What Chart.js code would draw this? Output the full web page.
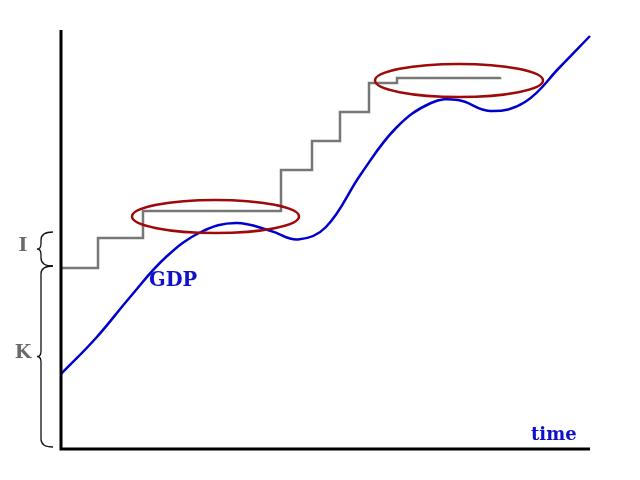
<!DOCTYPE html>
<html>
<head>
<meta charset="utf-8">
<script src="https://cdn.jsdelivr.net/npm/chart.js@4"></script>
<style>
html,body{margin:0;padding:0;background:#fff;}
#wrap{width:640px;height:480px;}
</style>
</head>
<body>
<div id="wrap"><canvas id="c" width="640" height="480"></canvas></div>
<script>
// Units: arbitrary "time" (x) and "level" (y)
const gdpTime  = [0,35,70,105,140,175,210,237,265,300,335,370,397,429,464,499,529];
const gdpLevel = [75,111,153,192,217,226,218,209.5,222,275,321,346,349,338,347,382,413];

const capTime  = [0,37,82,220,251,279,308,336,439];
const capLevel = [181,211,238,279,308,337,366,371,372];

const ellipseX  = [154.5,398];
const ellipseY  = [232.5,368.5];
const ellipseRX = [83.5,84];
const ellipseRY = [16.5,16.5];

const braceTop    = [217,183];
const braceBottom = [183,2];
const braceLabels = ['I','K'];

const xMax = 529, yMax = 419;

const overlay = {
  id:'overlay',
  afterDatasetsDraw(chart){
    const ctx = chart.ctx, xs = chart.scales.x, ys = chart.scales.y;
    ctx.save();
    // ellipses
    ctx.strokeStyle = '#9e0a0a';
    ctx.lineWidth = 2.5;
    for(let i=0;i<ellipseX.length;i++){
      const cx = xs.getPixelForValue(ellipseX[i]);
      const cy = ys.getPixelForValue(ellipseY[i]);
      const rx = xs.getPixelForValue(ellipseX[i]+ellipseRX[i]) - cx;
      const ry = cy - ys.getPixelForValue(ellipseY[i]+ellipseRY[i]);
      ctx.beginPath();
      ctx.ellipse(cx,cy,rx,ry,0,0,Math.PI*2);
      ctx.stroke();
    }
    // axes
    const x0 = xs.getPixelForValue(0), x1 = xs.getPixelForValue(xMax);
    const y0 = ys.getPixelForValue(0), y1 = ys.getPixelForValue(yMax);
    ctx.strokeStyle = '#000';
    ctx.lineWidth = 3;
    ctx.beginPath();
    ctx.moveTo(x0, y1);
    ctx.lineTo(x0, y0);
    ctx.lineTo(x1, y0);
    ctx.stroke();
    // braces
    ctx.lineWidth = 1.3;
    ctx.strokeStyle = '#111';
    const tipX = x0-24, bodyX = x0-20, endX = x0-8, r = 8;
    for(let i=0;i<braceTop.length;i++){
      const t = ys.getPixelForValue(braceTop[i]);
      const b = ys.getPixelForValue(braceBottom[i]);
      const m = (t+b)/2;
      ctx.beginPath();
      ctx.moveTo(endX,t);
      ctx.quadraticCurveTo(bodyX,t,bodyX,t+r);
      ctx.lineTo(bodyX,m-r*0.7);
      ctx.quadraticCurveTo(bodyX,m,tipX,m);
      ctx.quadraticCurveTo(bodyX,m,bodyX,m+r*0.7);
      ctx.lineTo(bodyX,b-r);
      ctx.quadraticCurveTo(bodyX,b,endX,b);
      ctx.stroke();
      ctx.fillStyle = '#6a6a6a';
      ctx.font = 'bold 19px "DejaVu Serif", serif';
      ctx.textAlign = 'center';
      ctx.textBaseline = 'middle';
      ctx.fillText(braceLabels[i], x0-38, m-3);
    }
    // labels
    ctx.fillStyle = '#1010cc';
    ctx.textAlign = 'left';
    ctx.textBaseline = 'alphabetic';
    ctx.font = 'bold 19.5px "DejaVu Serif", serif';
    ctx.fillText('GDP', xs.getPixelForValue(88), ys.getPixelForValue(163));
    ctx.font = 'bold 18px "DejaVu Serif", serif';
    ctx.fillText('time', xs.getPixelForValue(470), ys.getPixelForValue(9));
    ctx.restore();
  }
};

new Chart(document.getElementById('c'), {
  type:'line',
  data:{
    datasets:[
      {
        data: capTime.map((t,i)=>({x:t,y:capLevel[i]})),
        borderColor:'#777777',
        borderWidth:2.5,
        stepped:'before',
        pointRadius:0,
        fill:false,
        clip:false
      },
      {
        data: gdpTime.map((t,i)=>({x:t,y:gdpLevel[i]})),
        borderColor:'#0000cc',
        borderWidth:2.5,
        tension:0.4,
        pointRadius:0,
        fill:false,
        clip:false
      }
    ]
  },
  options:{
    responsive:false,
    animation:false,
    layout:{padding:{left:61,right:50,top:30,bottom:31}},
    plugins:{legend:{display:false},tooltip:{enabled:false}},
    scales:{
      x:{type:'linear',min:0,max:xMax,display:false},
      y:{type:'linear',min:0,max:yMax,display:false}
    }
  },
  plugins:[overlay]
});
</script>
</body>
</html>
